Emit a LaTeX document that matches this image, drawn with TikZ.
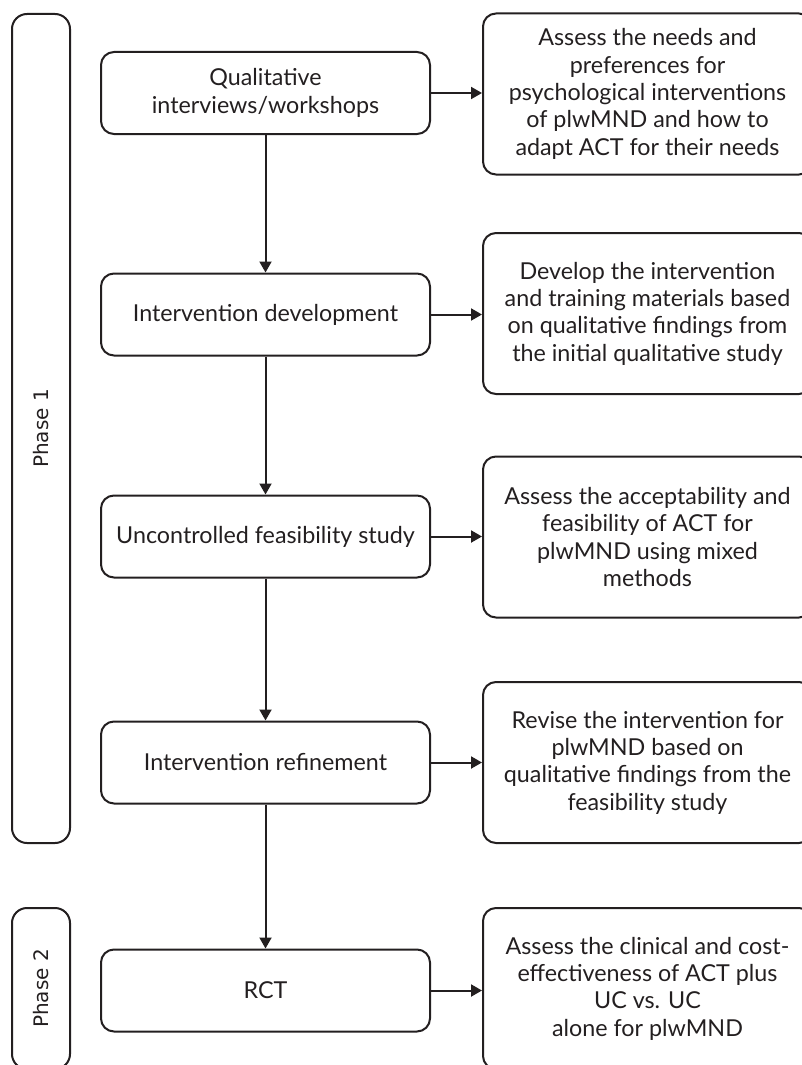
\documentclass[tikz,border=0pt]{standalone}
\usepackage{fontspec}
\setmainfont{Lato}
\newfontfamily\phasefont{DejaVu Sans}
\usetikzlibrary{arrows.meta}
\definecolor{ink}{HTML}{231F20}
\begin{document}
\begin{tikzpicture}[x=1pt,y=-1pt,
  box/.style={draw=ink, line width=2pt, rounded corners=13pt, text=ink, align=center,
    font=\fontsize{23.3}{27.3}\selectfont, inner sep=0pt},
  stepbox/.style={box, minimum width=329pt, minimum height=82pt},
  outbox/.style={box, minimum width=329pt, minimum height=161pt},
  phasebox/.style={draw=ink, line width=2pt, rounded corners=15pt, rotate=90,
    minimum height=58pt, text=ink, inner sep=0pt, font=\phasefont\fontsize{20}{23}\selectfont},
  arr/.style={draw=ink, line width=2pt, -{Triangle[length=11pt,width=12pt]}}]
\useasboundingbox (0,0) rectangle (802,1065);
\clip (0,0) rectangle (802,1065);

\node[phasebox, minimum width=829pt] (p1) at (41,428.5) {Phase 1};
\node[phasebox, minimum width=161pt] (p2) at (41,988.5) {Phase 2};

\node[stepbox] (q) at (265.5,93) {Qualitative\\interviews/workshops};
\node[stepbox] (d) at (265.5,314.5) {Intervention development};
\node[stepbox] (u) at (265.5,536.5) {Uncontrolled feasibility study};
\node[stepbox] (r) at (265.5,762.5) {Intervention refinement};
\node[stepbox] (t) at (265.5,990.5) {RCT};

\node[outbox] (o1) at (647.5,94) {Assess the needs and\\preferences for\\psychological interventions\\of plwMND and how to\\adapt ACT for their needs};
\node[outbox] (o2) at (647.5,313.5) {Develop the intervention\\and training materials based\\on qualitative findings from\\the initial qualitative study};
\node[outbox] (o3) at (647.5,537) {Assess the acceptability and\\feasibility of ACT for\\plwMND using mixed\\methods};
\node[outbox] (o4) at (647.5,762.5) {Revise the intervention for\\plwMND based on\\qualitative findings from the\\feasibility study};
\node[outbox] (o5) at (647.5,988.5) {Assess the clinical and cost-\\effectiveness of ACT plus\\UC vs. UC\\alone for plwMND};

\draw[arr] (q.south) -- (d.north);
\draw[arr] (d.south) -- (u.north);
\draw[arr] (u.south) -- (r.north);
\draw[arr] (r.south) -- (t.north);

\draw[arr] (q.east) -- (q.east -| o1.west);
\draw[arr] (d.east) -- (d.east -| o2.west);
\draw[arr] (u.east) -- (u.east -| o3.west);
\draw[arr] (r.east) -- (r.east -| o4.west);
\draw[arr] (t.east) -- (t.east -| o5.west);
\end{tikzpicture}
\end{document}
